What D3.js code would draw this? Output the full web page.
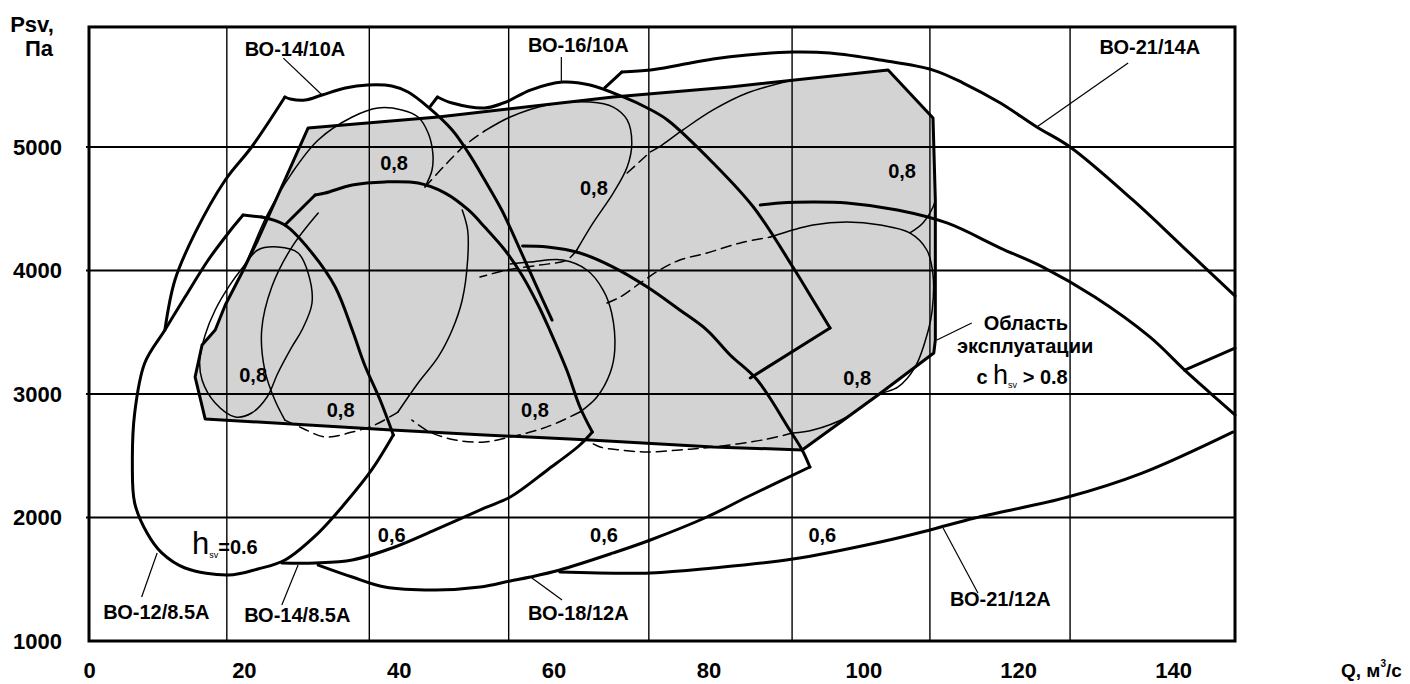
<!DOCTYPE html>
<html>
<head>
<meta charset="utf-8">
<script src="https://cdn.jsdelivr.net/npm/d3@7"></script>
<style>
  body { margin: 0; background: #fff; }
  text { font-family: "Liberation Sans", Arial, sans-serif; fill: #000; }
</style>
</head>
<body>
<svg id="chart" width="1410" height="684"></svg>
<script>
// axes
const qTicks = [0, 20, 40, 60, 80, 100, 120, 140];
const pTicks = [1000, 2000, 3000, 4000, 5000];
const qGrid = [17.8, 36.2, 54.2, 72.3, 90.8, 108.6, 126.7];
const pGrid = [2000, 3000, 4000, 5000];
const qMax = 148, pMax = 5972;

// operating area with efficiency > 0.8 (Q m3/s, Psv Pa)
const area08 = [[28.3,5154],[45.1,5243],[67.7,5405],[82.8,5486],[103.2,5623],[109.0,5235],[109.3,4571],
  [109.3,3437],[109.1,3332],[106.7,3219],[101.9,2992],[92.1,2547],[80.6,2571],[64.7,2628],[51.1,2668],
  [39.1,2708],[15.0,2798],[13.7,3138],[14.6,3397],[16.3,3518],[17.6,3721],[19.8,3988],[21.8,4247],[25.3,4733]];

// fan envelopes, each split at its corners
const bo12_85 = [
  [[19.9,4449],[22.3,4433]],
  [[22.3,4433],[25.3,4368],[28.8,4142],[31.8,3866],[34.0,3518],[35.6,3235],[37.6,2951],[39.3,2668]],
  [[39.3,2668],[36.5,2385],[33.1,2117],[29.6,1874],[25.3,1656],[21.8,1583],[18.0,1534],[12.4,1591],[9.4,1713],
   [7.5,1874],[5.9,2117],[5.6,2441],[5.9,2846],[7.2,3251],[9.8,3518],[12.4,3785],[15.4,4085],[18.0,4304],[19.9,4449]]
];
const bo14_10 = [
  [[9.8,3518],[11.1,3923],[13.7,4304],[17.6,4733],[21.0,5000],[25.3,5405]],
  [[25.3,5405],[26.0,5389],[27.9,5380],[30.1,5421],[33.1,5478],[36.0,5502],[39.1,5494],[41.2,5445],[43.8,5323],
   [46.9,5138],[49.0,4952],[51.1,4733],[53.3,4490],[55.4,4206],[57.6,3899],[59.8,3599]]
];
const bo14_85 = [
  [[25.3,4368],[29.2,4611]],
  [[29.2,4611],[30.5,4627],[34.0,4692],[38.2,4717],[42.5,4708],[46.0,4627],[49.0,4490],[51.1,4352],[53.7,4166],
   [55.9,3964],[58.0,3721],[59.5,3518],[61.7,3194],[63.4,2895],[65.0,2692]],
  [[65.0,2692],[63.4,2587],[59.2,2385],[54.4,2166],[51.1,2077],[44.7,1899],[39.5,1761],[34.0,1656],[29.2,1632],[24.9,1632]]
];
const bo16_10 = [
  [[44.0,5323],[45.0,5405]],
  [[45.0,5405],[46.9,5356],[51.1,5316],[53.5,5356],[54.4,5380],[57.0,5461],[61.2,5526],[64.7,5502],[69.0,5405],
   [72.1,5316],[74.7,5219],[80.6,4871],[85.8,4514],[90.9,4028],[93.5,3761],[95.7,3534]],
  [[95.7,3534],[85.4,3130]]
];
const bo18_12 = [
  [[56.0,4198],[59.2,4190],[63.4,4142],[67.7,4028],[72.1,3866],[76.3,3680],[79.8,3518],[82.8,3316],[86.3,3113],
   [90.5,2708],[92.1,2547],[93.1,2409]],
  [[93.1,2409],[85.0,2166],[79.8,2004],[72.5,1818],[67.7,1713],[60.8,1575],[57.0,1518],[54.4,1486],[50.5,1437],
   [44.7,1413],[38.2,1437],[34.0,1518],[29.6,1615]]
];
const bo21_12 = [
  [[86.7,4530],[89.2,4547],[93.5,4555],[97.9,4547],[104.4,4490],[110.8,4385],[117.7,4182],[123.2,4028],[129.9,3785],
   [137.0,3462],[141.5,3194],[144.8,3008],[148.0,2830]],
  [[60.8,1559],[72.5,1551],[80.6,1591],[90.9,1664],[102.2,1802],[108.6,1899],[114.4,1996],[126.4,2166],[136.0,2360],[147.7,2692]]
];
const bo21_14 = [
  [[66.6,5478],[68.8,5607]],
  [[68.8,5607],[72.5,5623],[76.3,5664],[80.6,5712],[85.0,5745],[90.9,5769],[95.7,5761],[102.2,5704],[109.0,5623],
   [112.9,5518],[117.7,5356],[122.4,5162],[126.7,5000],[134.8,4571],[141.3,4190],[148.0,3794]],
  [[141.5,3194],[148.0,3372]]
];

// efficiency 0.8 contours: solid and dashed parts
const eta08Closed = [[21.8,4166],[24.4,4190],[27.0,4142],[28.3,3980],[28.8,3737],[27.5,3518],[26.2,3381],[24.4,3170],
  [23.0,2976],[21.0,2846],[18.9,2814],[16.3,2927],[14.6,3113],[14.3,3275],[15.0,3478],[16.3,3680],[18.2,3883],[19.8,4020]];
const eta08Solid = [
  [[19.8,3988],[21.0,4166],[23.0,4449],[26.2,4789],[29.6,5057],[34.0,5243],[37.3,5316],[40.4,5300],[42.5,5243],
   [43.8,5113],[44.4,4952],[44.3,4814],[43.4,4676]],
  [[51.1,5130],[54.4,5243],[59.2,5340],[64.7,5364],[67.7,5323],[69.5,5219],[70.1,5033],[69.5,4838],[67.7,4627],
   [65.1,4385],[63.0,4166]],
  [[48.2,4490],[48.9,4328],[48.9,4085],[48.2,3761],[46.9,3518],[45.1,3300],[42.5,3089],[39.9,2854]],
  [[29.6,4466],[26.2,4190],[23.6,3866],[22.3,3518],[22.7,3194],[24.0,2951],[25.3,2789]],
  [[54.4,4053],[57.0,4069],[61.2,4085],[64.3,4004],[66.4,3842],[67.5,3656],[67.9,3356],[67.3,3170],[65.6,2976],[63.4,2854]],
  [[72.5,4960],[74.0,5016],[76.7,5138],[80.6,5300],[85.0,5437],[90.9,5542]],
  [[109.3,4571],[109.0,4514],[107.7,4385],[106.0,4304]],
  [[88.0,4271],[93.5,4368],[97.9,4393],[102.2,4368],[106.0,4304],[108.2,4166],[109.0,3964],[108.9,3680],[108.4,3518],
   [106.7,3219],[104.5,3057],[101.9,2992],[97.9,2814],[93.5,2708],[90.9,2684]]
];
const eta08Dashed = [
  [[43.4,4676],[46.0,4854],[48.6,5016],[51.1,5130]],
  [[63.0,4166],[61.7,4085],[58.2,4044],[54.0,4004],[50.5,3947]],
  [[25.3,2789],[27.5,2725],[30.5,2652],[34.0,2692],[36.9,2749],[39.9,2854]],
  [[63.4,2854],[60.4,2765],[57.9,2708],[54.4,2652],[51.1,2611],[47.3,2628],[44.0,2692],[41.7,2789]],
  [[69.5,4789],[72.5,4960]],
  [[66.9,3737],[68.6,3785],[71.2,3899],[73.7,4004],[76.3,4085],[79.8,4142],[84.1,4223],[88.0,4271]],
  [[90.9,2684],[87.0,2628],[80.6,2571],[76.3,2547],[72.1,2530],[68.6,2547],[66.0,2571],[64.7,2611]]
];

// labels
const fanNames = ['ВО-14/10А', 'ВО-16/10А', 'ВО-21/14А', 'ВО-12/8.5А', 'ВО-14/8.5А', 'ВО-18/12А', 'ВО-21/12А'];
const fanNamePos = [[26.6,5793],[63.2,5826],[137.0,5810],[8.7,1235],[26.9,1211],[63.2,1227],[117.7,1340]];
const leaders = [
  [[25.1,5720],[30.1,5421]], [[61.0,5729],[61.0,5526]], [[134.2,5680],[122.4,5162]],
  [[6.8,1356],[8.8,1713]], [[24.9,1291],[27.0,1615]], [[61.1,1332],[57.2,1510]], [[114.8,1389],[110.3,1915]],
  [[114.0,3575],[109.5,3437]]
];
const eff08Pos = [[39.4,4870],[65.2,4668],[105.0,4806],[21.2,3154],[32.5,2870],[57.6,2870],[99.2,3130]];
const eff06Pos = [[39.1,1858],[66.5,1858],[94.7,1858]];

const svg = d3.select('#chart');
svg.append('rect').attr('width', 1410).attr('height', 684).attr('fill', '#fff');

const x = d3.scaleLinear().domain([0, qMax]).range([89, 1235]);
const y = d3.scaleLinear().domain([1000, 6000]).range([641, 23.5]);

const line = d3.line().x(d => x(d[0])).y(d => y(d[1])).curve(d3.curveCatmullRom.alpha(0.5));
const loop = d3.line().x(d => x(d[0])).y(d => y(d[1])).curve(d3.curveCatmullRomClosed.alpha(0.5));
const poly = d3.line().x(d => x(d[0])).y(d => y(d[1])).curve(d3.curveLinearClosed);

function stroke(d, w, dash) {
  svg.append('path').attr('d', d)
    .attr('fill', 'none').attr('stroke', '#000').attr('stroke-width', w)
    .attr('stroke-dasharray', dash || null)
    .attr('stroke-linejoin', 'round').attr('stroke-linecap', 'round');
}

// shaded area
svg.append('path').attr('d', poly(area08)).attr('fill', '#d3d3d3');

// grid
svg.append('g').selectAll('line').data(qGrid).join('line')
  .attr('x1', d => x(d)).attr('x2', d => x(d))
  .attr('y1', y(1000)).attr('y2', y(pMax))
  .attr('stroke', '#000').attr('stroke-width', 1.4);
svg.append('g').selectAll('line').data(pGrid).join('line')
  .attr('x1', x(0) - 3).attr('x2', x(qMax))
  .attr('y1', d => y(d)).attr('y2', d => y(d))
  .attr('stroke', '#000').attr('stroke-width', 2);

svg.append('rect')
  .attr('x', x(0)).attr('y', y(pMax))
  .attr('width', x(qMax) - x(0)).attr('height', y(1000) - y(pMax))
  .attr('fill', 'none').attr('stroke', '#000').attr('stroke-width', 3);

// thin efficiency lines
stroke(loop(eta08Closed), 1.5);
eta08Solid.forEach(s => stroke(line(s), 1.5));
eta08Dashed.forEach(s => stroke(line(s), 1.5, '10,6'));

// area outline
stroke(poly(area08), 3);

// fan curves
[bo12_85, bo14_10, bo14_85, bo16_10, bo18_12, bo21_12, bo21_14]
  .forEach(fan => fan.forEach(s => stroke(line(s), 3)));

// leader lines
leaders.forEach(s => svg.append('line')
  .attr('x1', x(s[0][0])).attr('y1', y(s[0][1]))
  .attr('x2', x(s[1][0])).attr('y2', y(s[1][1]))
  .attr('stroke', '#000').attr('stroke-width', 1.2));

// axes
const xAxis = svg.append('g').attr('transform', `translate(0,${y(1000)})`)
  .call(d3.axisBottom(x).tickValues(qTicks).tickSize(0).tickPadding(23));
const yAxis = svg.append('g').attr('transform', `translate(${x(0)},0)`)
  .call(d3.axisLeft(y).tickValues(pTicks).tickFormat(d3.format('d')).tickSize(0).tickPadding(27));
[xAxis, yAxis].forEach(g => {
  g.select('.domain').remove();
  g.selectAll('text').attr('font-size', 22).attr('font-weight', 'bold')
    .attr('font-family', '"Liberation Sans", Arial, sans-serif').attr('fill', '#000');
});
xAxis.selectAll('text').attr('dy', '0.62em');

function bold(txt, px, py, size, anchor) {
  return svg.append('text').attr('x', px).attr('y', py)
    .attr('font-size', size).attr('font-weight', 'bold')
    .attr('text-anchor', anchor || 'middle').text(txt);
}

bold('Psv,', 32, 32, 22);
bold('Па', 39, 56, 22);
const qLab = bold('Q, м', 1341, 677, 19, 'start');
qLab.append('tspan').attr('font-size', 10).attr('dy', -10).text('3');
qLab.append('tspan').attr('dy', 10).text('/с');

fanNames.forEach((t, i) => bold(t, x(fanNamePos[i][0]), y(fanNamePos[i][1]), 20)
  .attr('dominant-baseline', 'central'));
eff08Pos.forEach(p => bold('0,8', x(p[0]), y(p[1]), 20).attr('dominant-baseline', 'central'));
eff06Pos.forEach(p => bold('0,6', x(p[0]), y(p[1]), 20).attr('dominant-baseline', 'central'));

// eta labels
const h1 = svg.append('text').attr('x', x(13.3)).attr('y', y(1704));
h1.append('tspan').attr('font-size', 31).attr('font-weight', 300).text('h');
h1.append('tspan').attr('font-size', 9).attr('dy', 4).text('sv');
h1.append('tspan').attr('font-size', 20).attr('font-weight', 'bold').attr('dy', -4).text('=0.6');

bold('Область', x(121.0), y(3518), 20);
bold('эксплуатации', x(120.9), y(3330), 20);
const h2 = svg.append('text').attr('x', x(114.6)).attr('y', y(3080));
h2.append('tspan').attr('font-size', 20).attr('font-weight', 'bold').text('с ');
h2.append('tspan').attr('font-size', 27).attr('font-weight', 300).text('h');
h2.append('tspan').attr('font-size', 9).attr('dy', 4).text('sv');
h2.append('tspan').attr('font-size', 20).attr('font-weight', 'bold').attr('dy', -4).text(' > 0.8');
</script>
</body>
</html>
